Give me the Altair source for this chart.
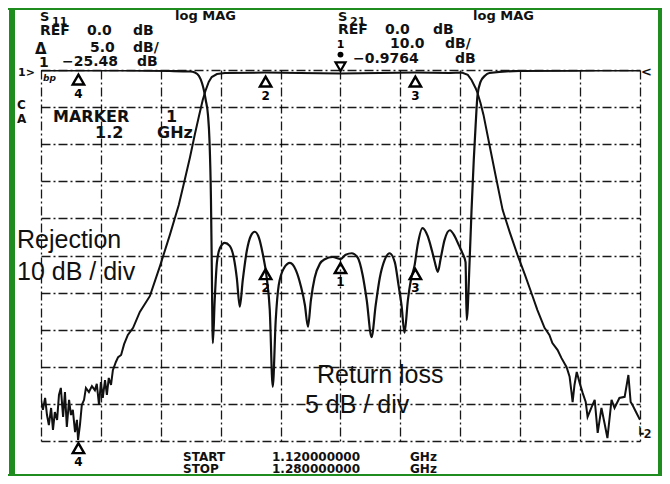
import altair as alt
import pandas as pd

# S21 transmission trace (10 dB / div, REF 0 dB at top line)
s21_freq = [1.1200, 1.1205, 1.1211, 1.1216, 1.1221, 1.1227, 1.1232, 1.1237, 1.1243, 1.1248,
            1.1253, 1.1259, 1.1264, 1.1269, 1.1275, 1.1280, 1.1285, 1.1291, 1.1296, 1.1299,
            1.1304, 1.1309, 1.1315, 1.1320, 1.1328, 1.1336, 1.1344, 1.1349, 1.1355, 1.1360,
            1.1365, 1.1371, 1.1376, 1.1381, 1.1387, 1.1392, 1.1400, 1.1406, 1.1414, 1.1422,
            1.1432, 1.1446, 1.1464, 1.1491, 1.1518, 1.1544, 1.1568, 1.1584, 1.1598, 1.1611,
            1.1622, 1.1632, 1.1640, 1.1648, 1.1656, 1.1670, 1.1691, 1.1798, 1.1891, 1.2000,
            1.2105, 1.2198, 1.2292, 1.2324, 1.2340, 1.2350, 1.2361, 1.2366, 1.2374, 1.2382,
            1.2398, 1.2414, 1.2433, 1.2452, 1.2473, 1.2492, 1.2510, 1.2526, 1.2545, 1.2558,
            1.2566, 1.2580, 1.2590, 1.2604, 1.2612, 1.2617, 1.2620, 1.2625, 1.2631, 1.2639,
            1.2647, 1.2655, 1.2660, 1.2671, 1.2679, 1.2687, 1.2697, 1.2705, 1.2713, 1.2724,
            1.2732, 1.2745, 1.2759, 1.2769, 1.2775, 1.2780, 1.2791, 1.2800]
s21_db = [-88.9, -91.6, -88.4, -93.0, -95.7, -91.1, -97.0, -92.2, -94.3, -87.6,
          -85.7, -93.5, -86.8, -96.2, -88.9, -93.0, -91.6, -97.6, -94.3, -99.7,
          -95.7, -90.3, -88.9, -85.7, -86.8, -85.2, -86.3, -84.6, -90.3, -84.1,
          -88.4, -83.6, -87.6, -83.0, -84.9, -80.9, -78.7, -77.4, -76.8, -73.9,
          -71.4, -69.5, -65.2, -60.9, -52.8, -44.5, -36.4, -29.6, -23.5, -17.3,
          -12.4, -8.1, -5.4, -3.2, -1.9, -1.1, -0.8, -0.7, -0.8, -0.9764,
          -0.8, -0.7, -0.8, -0.7, -1.3, -2.7, -4.9, -6.2, -8.9, -12.1,
          -20.2, -28.3, -37.7, -43.7, -49.9, -55.0, -60.1, -64.7, -69.5, -71.4,
          -73.6, -75.5, -77.6, -80.1, -82.7, -86.8, -89.5, -84.9, -81.4, -84.4,
          -87.1, -89.5, -93.5, -90.8, -88.9, -97.8, -91.1, -95.1, -99.2, -88.9,
          -91.1, -88.4, -88.1, -82.2, -89.5, -90.3, -92.5, -94.3]

# S11 reflection trace (5 dB / div, REF 0 dB at top line)
s11_freq = [1.1200, 1.1411, 1.1544, 1.1598, 1.1611, 1.1622, 1.1630, 1.1635, 1.1640, 1.1646,
            1.1650, 1.1654, 1.1656, 1.1659, 1.1664, 1.1670, 1.1678, 1.1691, 1.1704, 1.1715,
            1.1723, 1.1731, 1.1739, 1.1750, 1.1760, 1.1771, 1.1782, 1.1792, 1.1803, 1.1811,
            1.1819, 1.1827, 1.1835, 1.1849, 1.1865, 1.1881, 1.1894, 1.1905, 1.1913, 1.1921,
            1.1931, 1.1945, 1.1958, 1.1979, 1.2000, 1.2014, 1.2030, 1.2046, 1.2059, 1.2070,
            1.2083, 1.2094, 1.2105, 1.2118, 1.2131, 1.2145, 1.2155, 1.2163, 1.2171, 1.2180,
            1.2188, 1.2198, 1.2206, 1.2219, 1.2233, 1.2244, 1.2252, 1.2260, 1.2268, 1.2278,
            1.2292, 1.2305, 1.2316, 1.2326, 1.2334, 1.2337, 1.2345, 1.2350, 1.2356, 1.2361,
            1.2366, 1.2374, 1.2385, 1.2398, 1.2478, 1.2692, 1.2800]
s11_db = [-0.07, -0.07, -0.13, -0.2, -0.34, -0.81, -1.75, -2.7, -4.04, -6.06,
          -9.43, -17.5, -25.6, -36.8, -31.0, -25.9, -24.0, -23.3, -23.7, -25.3,
          -28.0, -31.9, -28.3, -24.3, -22.4, -21.8, -22.6, -24.7, -28.0, -32.3,
          -42.7, -33.7, -29.0, -26.7, -26.0, -27.0, -29.1, -31.7, -34.6, -31.0,
          -28.0, -26.1, -25.5, -25.2, -25.48, -24.9, -24.7, -25.3, -27.6, -31.0,
          -36.0, -31.7, -28.0, -25.6, -24.7, -25.9, -29.0, -31.7, -35.4, -31.0,
          -28.3, -26.3, -23.6, -21.3, -22.4, -24.3, -25.9, -27.2, -25.3, -22.9,
          -21.6, -22.4, -23.6, -24.7, -25.9, -33.7, -25.6, -18.9, -12.1, -7.4,
          -3.4, -1.6, -0.81, -0.4, -0.13, -0.07, -0.07]

# markers
mk21_freq = [1.13, 1.18, 1.22]
mk21_db = [-99.5, -0.7, -0.7]
mk21_lab = ["4", "2", "3"]
mk11_freq = [1.13, 1.18, 1.20, 1.22]
mk11_db = [-0.07, -26.3, -25.48, -26.3]
mk11_lab = ["4", "2", "1", "3"]
act_freq = [1.20]
act_db = [-0.9764]
act_lab = ["1"]

freq_ticks = [1.12, 1.136, 1.152, 1.168, 1.184, 1.2, 1.216, 1.232, 1.248, 1.264, 1.28]
db_ticks = [-100, -90, -80, -70, -60, -50, -40, -30, -20, -10, 0]

# ---------------- layout ----------------
X0, Y0 = 41, 70          # page position of the graticule's top-left corner
W, H = 599, 371
INK = "#111111"
GREEN = "#1e8c1e"
DASH = [9, 3, 2, 3]

df21 = pd.DataFrame({"f": s21_freq, "db": s21_db})
df11 = pd.DataFrame({"f": s11_freq, "db": s11_db})
dm21 = pd.DataFrame({"f": mk21_freq, "db": mk21_db, "lab": mk21_lab})
dm11 = pd.DataFrame({"f": mk11_freq, "db": mk11_db, "lab": mk11_lab})
dact = pd.DataFrame({"f": act_freq, "db": act_db, "lab": act_lab})

xdef = alt.X("f:Q", scale=alt.Scale(domain=[1.12, 1.28], nice=False, zero=False),
             axis=alt.Axis(values=freq_ticks, grid=True, labels=False, ticks=False, domain=False,
                           title=None, gridColor="black", gridDash=DASH, gridWidth=1.3,
                           gridOpacity=0.9))
y21 = alt.Scale(domain=[-100, 0], nice=False, zero=False)
y11 = alt.Scale(domain=[-50, 0], nice=False, zero=False)

s21 = alt.Chart(df21).mark_line(color=INK, strokeWidth=2, interpolate="linear", clip=True).encode(
    x=xdef,
    y=alt.Y("db:Q", scale=y21,
            axis=alt.Axis(values=db_ticks, grid=True, labels=False, ticks=False, domain=False,
                          title=None, gridColor="black", gridDash=DASH, gridWidth=1.3,
                          gridOpacity=0.9)),
    order="f:Q")
s11 = alt.Chart(df11).mark_line(color=INK, strokeWidth=2.2, interpolate="monotone", clip=True).encode(
    x=xdef, y=alt.Y("db:Q", scale=y11, axis=None), order="f:Q")


def marker_layers(df, yscale):
    tri = alt.Chart(df).mark_point(shape="triangle-up", filled=False, stroke="black", strokeWidth=2.4,
                                   opacity=1, size=130, yOffset=9).encode(
        x=xdef, y=alt.Y("db:Q", scale=yscale, axis=None))
    num = alt.Chart(df).mark_text(font="DejaVu Sans", fontWeight="bold", fontSize=12, color="black",
                                  dy=23, baseline="middle").encode(
        x=xdef, y=alt.Y("db:Q", scale=yscale, axis=None), text="lab:N")
    return [tri, num]


act_tri = alt.Chart(dact).mark_point(shape="triangle-down", filled=False, stroke="black",
                                     strokeWidth=2.2, opacity=1, size=100, yOffset=-7).encode(
    x=xdef, y=alt.Y("db:Q", scale=y21, axis=None))
act_dot = alt.Chart(dact).mark_point(shape="circle", filled=True, color="black", opacity=1, size=35,
                                     yOffset=-19).encode(
    x=xdef, y=alt.Y("db:Q", scale=y21, axis=None))
act_num = alt.Chart(dact).mark_text(font="DejaVu Sans", fontWeight="bold", fontSize=11, color="black",
                                    dy=-29, baseline="middle").encode(
    x=xdef, y=alt.Y("db:Q", scale=y21, axis=None), text="lab:N")

one = pd.DataFrame({"k": [0]})


def txt(s, px, py, size=14, font="DejaVu Sans", weight="bold", style="normal"):
    return alt.Chart(one).mark_text(text=s, font=font, fontSize=size, fontWeight=weight,
                                    fontStyle=style, align="left", baseline="alphabetic",
                                    color=INK).encode(x=alt.value(px - X0), y=alt.value(py - Y0))


texts = [
    # channel 1 header
    txt("S", 40, 21, 13), txt("11", 52, 25, 11), txt("log MAG", 175, 20, 13),
    txt("REF", 40, 35), txt("0.0", 87, 35), txt("dB", 133, 35),
    txt("\u0394", 35, 54, 15), txt("5.0", 90, 52), txt("dB/", 133, 52),
    txt("1", 39, 67), txt("\u221225.48", 62, 66), txt("dB", 137, 66),
    # channel 2 header
    txt("S", 338, 21, 13), txt("21", 350, 25, 11), txt("log MAG", 473, 20, 13),
    txt("REF", 338, 34), txt("0.0", 385, 34), txt("dB", 433, 34),
    txt("10.0", 390, 48), txt("dB/", 445, 48),
    txt("\u22120.9764", 353, 63), txt("dB", 455, 63),
    # reference / side annotations
    txt("1>", 18, 76, 11), txt("bp", 43, 81, 9, style="italic"),
    txt("<", 641, 76, 13),
    txt("C", 17, 109, 12), txt("A", 17, 123, 12),
    txt("MARKER", 53, 122, 16), txt("1", 166, 122, 16),
    txt("1.2", 95, 138, 16), txt("GHz", 157, 138, 16),
    txt("\u25152", 636, 438, 13, font="DejaVu Sans Mono"),
    # sweep
    txt("START", 183, 461, 12), txt("1.120000000", 272, 461, 12), txt("GHz", 410, 461, 12),
    txt("STOP", 183, 473, 12), txt("1.280000000", 272, 473, 12), txt("GHz", 410, 473, 12),
    # overlaid captions
    txt("Rejection", 17, 248, 25, font="Liberation Sans", weight="normal"),
    txt("10 dB / div", 17, 280, 25, font="Liberation Sans", weight="normal"),
    txt("Return loss", 317, 383, 25, font="Liberation Sans", weight="normal"),
    txt("5 dB / div", 305, 413, 25, font="Liberation Sans", weight="normal"),
]


def bar(x1, x2, y1, y2):
    return alt.Chart(one).mark_rect(color=GREEN, opacity=1, clip=False).encode(
        x=alt.value(x1 - X0), x2=alt.value(x2 - X0), y=alt.value(y1 - Y0), y2=alt.value(y2 - Y0))


frame = [bar(9, 15, 8, 476),      # left
         bar(658, 662, 8, 476),   # right
         bar(8, 662, 8, 10),      # top
         bar(8, 662, 474, 476)]   # bottom

chart = alt.layer(
    s21, s11,
    *marker_layers(dm21, y21), *marker_layers(dm11, y11),
    act_tri, act_dot, act_num,
    *texts, *frame
).resolve_scale(y="independent").properties(
    width=W, height=H,
    padding={"left": X0 - 8, "top": Y0 - 8, "right": 670 - 16 - (X0 - 8) - W,
             "bottom": 484 - 16 - (Y0 - 8) - H},
    autosize=alt.AutoSizeParams(type="none"),
    background="white",
).configure_view(stroke=None)

chart.save("out.html", embed_options={"renderer": "svg", "actions": False})
